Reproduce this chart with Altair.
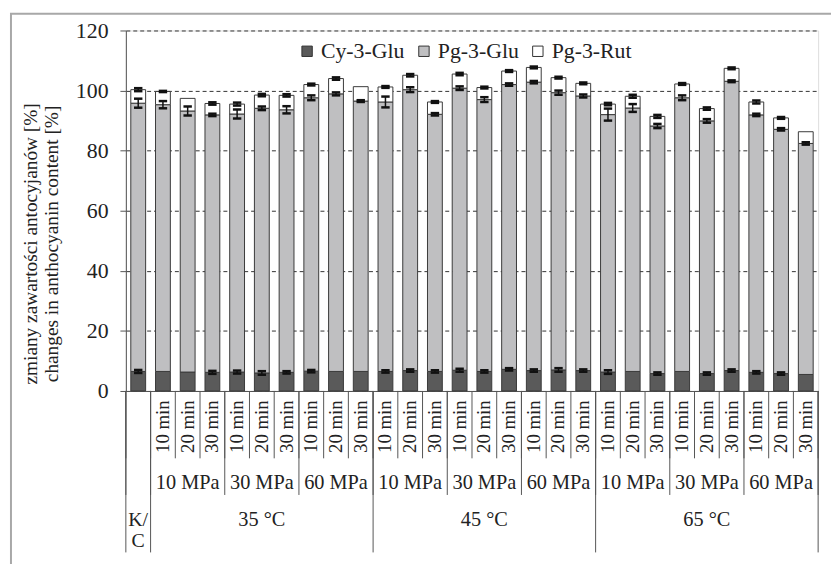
import altair as alt
import pandas as pd

# ---- data ----
temps = ["35 °C", "45 °C", "65 °C"]
pressures = ["10 MPa", "30 MPa", "60 MPa"]
times = ["10 min", "20 min", "30 min"]
control_lines = ["K/", "C"]
series = ["Cy-3-Glu", "Pg-3-Glu", "Pg-3-Rut"]

cy_glu = [6.5, 6.5, 6.3, 6.2, 6.3, 6.0, 6.2, 6.6, 6.5, 6.5, 6.5, 6.8, 6.5, 6.9,
          6.5, 7.2, 6.8, 7.0, 6.8, 6.3, 6.5, 5.8, 6.5, 5.8, 6.8, 6.2, 5.8, 5.5]
pg_glu = [89.3, 88.8, 86.9, 85.7, 85.9, 88.1, 87.4, 91.0, 92.4, 90.0, 89.7, 93.5, 85.6, 93.9,
          90.5, 94.8, 96.0, 92.3, 91.4, 85.7, 87.7, 82.4, 91.1, 84.1, 96.3, 85.7, 81.3, 76.9]
pg_rut = [4.5, 4.4, 4.2, 3.8, 3.3, 4.4, 4.8, 4.4, 5.1, 4.8, 5.0, 4.8, 4.1, 4.7,
          4.0, 4.5, 4.9, 5.0, 4.2, 3.5, 3.9, 3.2, 4.6, 4.1, 4.3, 4.3, 3.8, 3.9]

err_cy = [0.5, 0, 0, 0.5, 0.5, 0.6, 0.4, 0.4, 0, 0, 0.4, 0.4, 0.4, 0.5,
          0.4, 0.4, 0.4, 0.6, 0.4, 0.6, 0, 0.4, 0, 0.4, 0.4, 0.4, 0.4, 0]
err_pg = [1.5, 1.2, 1.5, 0.4, 1.5, 0.6, 1.2, 0.8, 0.5, 0.3, 1.8, 0.8, 0.4, 0.6,
          0.8, 0.4, 0.4, 0.7, 0.5, 2.0, 1.3, 0.7, 0.8, 0.6, 0.3, 0.4, 0.4, 0.4]
err_rut = [0.5, 0.2, 0, 0.4, 0.5, 0.4, 0.4, 0.3, 0.4, 0, 0.3, 0.4, 0.3, 0.4,
           0.3, 0.3, 0.3, 0.3, 0.3, 0.4, 0.5, 0.5, 0.3, 0.4, 0.3, 0.5, 0.3, 0]

FONT = "Liberation Serif"
n = len(cy_glu)

# ---- tables ----
bar_rows, err_rows = [], []
for i in range(n):
    pos = i + 0.5
    base = 0.0
    for s, vals, errs in zip(series, [cy_glu, pg_glu, pg_rut], [err_cy, err_pg, err_rut]):
        top = base + vals[i]
        bar_rows.append({"series": s, "x0": i + 0.2, "x1": i + 0.8, "y0": base, "y1": top})
        e = errs[i]
        if e > 0:
            err_rows.append({"pos": pos, "c0": pos - 0.17, "c1": pos + 0.17,
                             "lo": top - e, "hi": top + e})
        base = top
bars_df = pd.DataFrame(bar_rows)
err_df = pd.DataFrame(err_rows)

time_df = pd.DataFrame([{"pos": 1 + k + 0.5, "label": times[k % len(times)]}
                        for k in range(len(temps) * len(pressures) * len(times))])

press_rows = []
for t in range(len(temps)):
    for p in range(len(pressures)):
        start = 1 + (t * len(pressures) + p) * len(times)
        press_rows.append({"pos": start + len(times) / 2, "label": pressures[p]})
press_df = pd.DataFrame(press_rows)

temp_block = len(pressures) * len(times)
temp_df = pd.DataFrame([{"pos": 1 + t * temp_block + temp_block / 2, "label": temps[t]}
                        for t in range(len(temps))])

minor_b = pd.DataFrame({"b": list(range(0, n + 1))})
press_b = pd.DataFrame({"b": [0, 1] + [1 + j * len(times) for j in range(1, len(temps) * len(pressures) + 1)]})
temp_b = pd.DataFrame({"b": [0, 1] + [1 + j * temp_block for j in range(1, len(temps) + 1)]})
ctrl_df = pd.DataFrame({"pos": [0.5], "l1": [control_lines[0]], "l2": [control_lines[1]]})

xscale = alt.Scale(domain=[0, n], nice=False, zero=False)
yscale = alt.Scale(domain=[0, 120], nice=False)

xaxis = alt.Axis(labels=False, ticks=False, grid=False, title=None,
                 domainColor="#555", domainWidth=1)
yaxis = alt.Axis(values=[0, 20, 40, 60, 80, 100, 120],
                 labelFont=FONT, labelFontSize=22, labelColor="#222",
                 labelPadding=12, tickSize=6, tickColor="#555",
                 domainColor="#555", grid=True, gridDash=[4, 3],
                 gridColor="#333", gridWidth=1,
                 title=["zmiany zawartości antocyjanów [%]",
                        "changes in anthocyanin content [%]"],
                 titleFont=FONT, titleFontSize=19.5, titleFontWeight="normal",
                 titleColor="#222", titleLineHeight=21,
                 titleAngle=270, titleBaseline="top",
                 titleX=-105, titleY=215)


def X(f):
    return alt.X(f, scale=xscale, axis=xaxis)


def Y(f):
    return alt.Y(f, scale=yscale, axis=yaxis)


bars = alt.Chart(bars_df).mark_rect(stroke="#3a3a3a", strokeWidth=1).encode(
    x=X("x0:Q"), x2="x1:Q", y=Y("y0:Q"), y2="y1:Q",
    color=alt.Color("series:N",
                    scale=alt.Scale(domain=series, range=["#5a5a5a", "#bfbfc1", "#ffffff"]),
                    legend=alt.Legend(orient="none", legendX=172, legendY=10,
                                      direction="horizontal", title=None,
                                      symbolType="square", symbolSize=110,
                                      symbolStrokeColor="#333", symbolStrokeWidth=1,
                                      labelFont=FONT, labelFontSize=22, labelColor="#222",
                                      labelOffset=3, columnPadding=8)),
)

err_v = alt.Chart(err_df).mark_rule(color="#111", strokeWidth=1.5).encode(
    x=X("pos:Q"), y=Y("lo:Q"), y2="hi:Q")
cap_lo = alt.Chart(err_df).mark_rule(color="#111", strokeWidth=2.5).encode(
    x=X("c0:Q"), x2="c1:Q", y=Y("lo:Q"))
cap_hi = alt.Chart(err_df).mark_rule(color="#111", strokeWidth=2.5).encode(
    x=X("c0:Q"), x2="c1:Q", y=Y("hi:Q"))

sep_color = "#555"
sep_minor = alt.Chart(minor_b).mark_rule(color=sep_color, strokeWidth=1).encode(
    x=X("b:Q"), y=alt.value(364), y2=alt.value(432))
sep_press = alt.Chart(press_b).mark_rule(color=sep_color, strokeWidth=1).encode(
    x=X("b:Q"), y=alt.value(364), y2=alt.value(469))
sep_temp = alt.Chart(temp_b).mark_rule(color=sep_color, strokeWidth=1).encode(
    x=X("b:Q"), y=alt.value(364), y2=alt.value(527))

txt = dict(font=FONT, align="center", baseline="middle", color="#222")
time_txt = alt.Chart(time_df).mark_text(fontSize=19, angle=270, **txt).encode(
    x=X("pos:Q"), y=alt.value(400), text="label:N")
press_txt = alt.Chart(press_df).mark_text(fontSize=20.5, **txt).encode(
    x=X("pos:Q"), y=alt.value(457), text="label:N")
temp_txt = alt.Chart(temp_df).mark_text(fontSize=20.5, **txt).encode(
    x=X("pos:Q"), y=alt.value(494), text="label:N")
ctrl1 = alt.Chart(ctrl_df).mark_text(fontSize=20, **txt).encode(
    x=X("pos:Q"), y=alt.value(494), text="l1:N")
ctrl2 = alt.Chart(ctrl_df).mark_text(fontSize=20, **txt).encode(
    x=X("pos:Q"), y=alt.value(516), text="l2:N")

frame = alt.Chart(pd.DataFrame({"k": [0]})).mark_rect(
    filled=False, stroke="#a8a8a8", strokeWidth=2).encode(
    x=alt.value(-116), x2=alt.value(950), y=alt.value(-17), y2=alt.value(700))

chart = alt.layer(
    bars, frame, err_v, cap_lo, cap_hi, sep_minor, sep_press, sep_temp,
    time_txt, press_txt, temp_txt, ctrl1, ctrl2
).properties(
    width=699, height=364,
    autosize=alt.AutoSizeParams(type="none"),
    padding={"left": 119, "top": 20, "right": 13, "bottom": 172},
).configure_view(stroke=None).configure(background="white")

chart.save("out.html", embed_options={"renderer": "svg", "actions": False})
